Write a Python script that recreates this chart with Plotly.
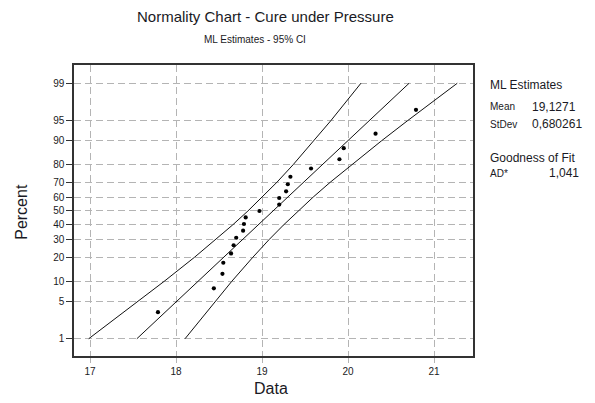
import plotly.graph_objects as go
from statistics import NormalDist

# ---- data ----
data_values = [17.79, 18.44, 18.54, 18.55, 18.64, 18.67, 18.70, 18.78, 18.79, 18.81,
               18.97, 19.20, 19.20, 19.28, 19.30, 19.33, 19.57, 19.90, 19.95, 20.32, 20.79]
data_percent = [3.27, 7.94, 12.62, 17.29, 21.96, 26.64, 31.31, 35.98, 40.65, 45.33,
                50.00, 54.67, 59.35, 64.02, 68.69, 73.36, 78.04, 82.71, 87.38, 92.06, 96.73]

line_percent = [1, 5, 10, 20, 30, 40, 50, 60, 70, 80, 90, 95, 99]
fit_line = [17.545, 18.008, 18.255, 18.555, 18.770, 18.955, 19.127, 19.299, 19.484, 19.700, 19.999, 20.246, 20.710]
ci_lower = [16.985, 17.562, 17.862, 18.216, 18.460, 18.659, 18.836, 19.003, 19.174, 19.361, 19.606, 19.800, 20.150]
ci_upper = [18.105, 18.454, 18.648, 18.894, 19.080, 19.251, 19.418, 19.595, 19.794, 20.039, 20.392, 20.692, 21.270]

x_ticks = [17, 18, 19, 20, 21]
y_tick_percent = [1, 5, 10, 20, 30, 40, 50, 60, 70, 80, 90, 95, 99]

title = "Normality Chart - Cure under Pressure"
subtitle = "ML Estimates - 95% CI"
stats_labels = [("ML Estimates", None), ("Mean", "19,1271"), ("StDev", "0,680261"),
                ("Goodness of Fit", None), ("AD*", "1,041")]

# ---- probability scale ----
nd = NormalDist()
def z(p):
    return nd.inv_cdf(p / 100.0)

FONT = "Liberation Sans, Arial, sans-serif"
TXT = "#1a1a24"

fig = go.Figure()
for xs in (ci_lower, fit_line, ci_upper):
    fig.add_trace(go.Scatter(x=xs, y=[z(p) for p in line_percent], mode="lines",
                             line=dict(color="#111", width=1), hoverinfo="skip"))
fig.add_trace(go.Scatter(x=data_values, y=[z(p) for p in data_percent], mode="markers",
                         marker=dict(color="#000", size=4.2, symbol="circle")))

fig.update_layout(
    width=595, height=403,
    margin=dict(l=74, r=122, t=65, b=47),
    paper_bgcolor="white", plot_bgcolor="white",
    showlegend=False,
    font=dict(family=FONT, color=TXT, size=10),
)
fig.update_xaxes(
    range=[16.814, 21.453], tickvals=x_ticks, ticktext=[str(v) for v in x_ticks],
    showgrid=True, gridcolor="#b4b4b4", griddash="7px,4px", gridwidth=1,
    showline=True, linecolor="#333", linewidth=1.5, mirror=True,
    ticks="outside", ticklen=5, tickcolor="#b4b4b4", zeroline=False,
    tickfont=dict(size=10, color=TXT),
)
fig.update_yaxes(
    range=[-2.641, 2.659], tickvals=[z(p) for p in y_tick_percent],
    ticktext=[str(p) for p in y_tick_percent],
    showgrid=True, gridcolor="#b4b4b4", griddash="7px,4px", gridwidth=1,
    showline=True, linecolor="#333", linewidth=1.5, mirror=True,
    ticks="outside", ticklen=6, tickcolor="#333", zeroline=False,
    tickfont=dict(size=10, color=TXT),
)

def ann(text, x, y, size, xanchor="center", angle=0):
    fig.add_annotation(text=text, x=x, y=y, xref="paper", yref="paper",
                       xanchor=xanchor, yanchor="middle", showarrow=False,
                       textangle=angle, font=dict(family=FONT, size=size, color=TXT))

ann(title, 0.479, 1.168, 15)
ann(subtitle, 0.4536, 1.089, 10)
ann("Percent", -0.130, 0.496, 16, angle=-90)
ann("Data", 0.494, -0.113, 16)

ys = [0.9313, 0.8567, 0.7962, 0.6794, 0.6278]
for (label, value), yv in zip(stats_labels, ys):
    ann(label, 1.0376, yv, 12 if value is None else 10, xanchor="left")
    if value is not None:
        vx = 1.1855 if label == "AD*" else 1.1429
        ann(value, vx, yv, 12, xanchor="left")

fig.write_html("out.html")
